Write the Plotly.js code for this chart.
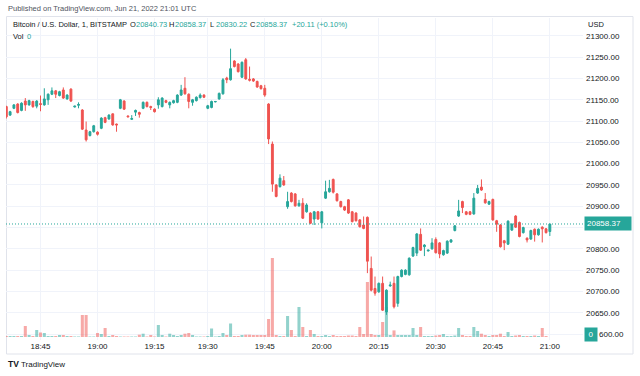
<!DOCTYPE html>
<html>
<head>
<meta charset="utf-8">
<script src="https://cdn.plot.ly/plotly-3.0.1.min.js"></script>
<style>
html,body{margin:0;padding:0;background:#fff;}
#chart{width:640px;height:376px;}
</style>
</head>
<body>
<div id="chart"></div>
<script>
// ---- DATA ----
const times = [
"18:36","18:37","18:38","18:39","18:40","18:41","18:42","18:43","18:44","18:45","18:46","18:47","18:48","18:49","18:50","18:51","18:52","18:53","18:54","18:55","18:56","18:57","18:58","18:59",
"19:00","19:01","19:02","19:03","19:04","19:05","19:06","19:07","19:08","19:09","19:10","19:11","19:12","19:13","19:14","19:15","19:16","19:17","19:18","19:19","19:20","19:21","19:22",
"19:24","19:25","19:26","19:27","19:28","19:29","19:30","19:31","19:32","19:33","19:34","19:35","19:36","19:37","19:38","19:39","19:40","19:41","19:42","19:43","19:44","19:45","19:46","19:47","19:48","19:49","19:50","19:51","19:52","19:53","19:54","19:55","19:56","19:57","19:58","19:59",
"20:00","20:01","20:02","20:03","20:04","20:05","20:06","20:07","20:08","20:09","20:10","20:11","20:12","20:13","20:14","20:15","20:16","20:17","20:18","20:19","20:20","20:21","20:22","20:23","20:24","20:25","20:26","20:27","20:28","20:29","20:30",
"20:31","20:32","20:33","20:34","20:35","20:36","20:37","20:38","20:39","20:40","20:41","20:42","20:43","20:44","20:45","20:46","20:47","20:48","20:49","20:50","20:51","20:52","20:53","20:54","20:55","20:56","20:57","20:58","20:59","21:00"
];
const opens = [21134,21114,21130,21140,21125,21147,21138,21146,21135,21141,21138,21150,21163,21171,21160,21173,21152,21175,21133,21137,
21126,21079,21066,21075,21074,21083,21108,21105,21117,21093,21130,21147,21112,21104,21121,21120,21130,21144,21134,21128,
21138,21134,21148,21138,21143,21144,21161,21177,21163,21144,21148,21155,21161,21130,21132,21145,21152,21164,21201,21197,
21241,21234,21203,21244,21198,21199,21193,21183,21177,21140,21046,20950,20946,20960,20899,20931,20929,20901,20907,20887,
20884,20870,20887,20861,20919,20934,20963,20929,20911,20899,20915,20887,20884,20868,20856,20874,20754,20707,20699,20719,
20652,20713,20719,20672,20735,20740,20739,20783,20790,20834,20805,20795,20800,20822,20814,20786,20790,20816,20843,20877,
20911,20887,20887,20882,20931,20945,20916,20905,20916,20866,20856,20819,20811,20844,20877,20862,20838,20825,20823,20846,
20833,20851,20847,20840.73];
const highs = [21136,21124,21140,21142,21144,21154,21150,21148,21149,21160,21177,21165,21179,21173,21171,21179,21163,21177,21136,21144,
21128,21099,21077,21091,21076,21109,21110,21116,21118,21094,21152,21149,21113,21114,21127,21122,21146,21146,21136,21130,
21156,21156,21150,21146,21150,21163,21185,21203,21165,21152,21158,21165,21163,21138,21148,21147,21167,21201,21204,21270,
21243,21236,21240,21248,21228,21201,21195,21185,21185,21142,21052,20952,20975,20971,20934,20933,20931,20915,20919,20907,
20886,20889,20889,20889,20960,20962,20965,20931,20913,20901,20917,20889,20886,20870,20876,20876,20782,20735,20721,20735,
20705,20723,20735,20737,20752,20752,20780,20805,20837,20848,20811,20798,20825,20827,20816,20798,20820,20823,20856,20915,
20913,20889,20889,20931,20950,20963,20931,20913,20918,20868,20858,20821,20867,20860,20879,20864,20852,20827,20845,20848,
20848,20853,20849,20858.37];
const lows = [21106,21112,21128,21118,21123,21124,21136,21131,21130,21123,21136,21138,21161,21154,21158,21152,21150,21145,21132,21130,
21079,21052,21064,21073,21066,21081,21095,21103,21089,21075,21128,21126,21109,21103,21112,21108,21128,21132,21126,21120,
21129,21132,21142,21130,21141,21142,21159,21162,21130,21136,21146,21153,21154,21128,21130,21144,21150,21162,21189,21195,
21226,21214,21201,21197,21193,21192,21178,21174,21157,21046,20934,20921,20944,20948,20894,20909,20899,20899,20870,20885,
20858,20856,20868,20848,20917,20932,20930,20911,20897,20889,20882,20862,20864,20850,20846,20743,20700,20690,20697,20654,
20645,20711,20660,20664,20733,20738,20737,20781,20783,20795,20783,20794,20798,20789,20778,20784,20788,20814,20841,20875,
20884,20879,20879,20880,20929,20936,20906,20903,20866,20840,20803,20797,20809,20842,20849,20827,20836,20815,20821,20817,
20831,20815,20836,20830.22];
const closes = [21110,21122,21138,21120,21142,21138,21148,21134,21147,21139,21152,21163,21171,21163,21169,21154,21161,21147,21135,21139,
21081,21056,21075,21089,21069,21107,21097,21114,21091,21091,21150,21128,21110,21106,21125,21116,21144,21134,21132,21122,
21150,21154,21144,21144,21148,21161,21173,21164,21146,21150,21156,21161,21156,21136,21146,21146,21165,21197,21197,21223,
21228,21216,21238,21199,21196,21194,21180,21176,21161,21058,20952,20923,20966,20950,20911,20911,20901,20907,20872,20903,
20860,20887,20870,20887,20934,20942,20933,20913,20899,20891,20884,20864,20866,20852,20848,20771,20703,20696,20719,20656,
20703,20715,20664,20735,20750,20750,20778,20803,20835,20797,20809,20797,20814,20791,20788,20796,20818,20821,20854,20889,
20897,20881,20881,20919,20942,20938,20908,20911,20868,20858,20805,20814,20865,20858,20851,20829,20850,20821,20843,20833,
20846,20847,20838,20858.37];
const volumes = [1,1,1,1,1,11,2,1,7,4.5,4,1,1,1,2,2,1,1,0.5,0.5,
22,22,0.5,0.5,4,3,9,1,2,1,0.5,0.5,0.5,0.5,0.5,2.3,3.3,0.5,2,0.5,
12,2,0.5,3.3,2,1,2,3.3,4,2,0.5,0.5,0.5,1,8.5,0.5,1,4,2,13.5,
1,1,2,2.3,2.3,2,2,2,2,18,79,2,1,1,21,7,1,30,10,1,
7,3,1,1,2,1,2,1,1,1,1.5,1.5,1,10,3,55,3,2,2,15,
30,2,6.6,2,2,2,2,9,2,10,1,1,1,1.5,2,3,1,1,1.5,9,
2,1,1,10,6,3.3,2,1,2,2,3.3,1,5,1,1.5,2,1,1,1,1.5,
1,9,1,0];
const timeTicks = ["18:45","19:00","19:15","19:30","19:45","20:00","20:15","20:30","20:45","21:00"];
const priceTicks = [20600,20650,20700,20750,20800,20850,20900,20950,21000,21050,21100,21150,21200,21250,21300];
const hiddenPriceTicks = [20850];           // hidden behind the last-price label
const partlyCoveredTick = 20600;            // "20" covered by the volume label box
const lastPrice = 20858.37;
const lastVolume = 0;

// ---- STYLE ----
const UP = '#26a69a', DOWN = '#ef5350';
const UPV = 'rgba(38,166,154,0.5)', DOWNV = 'rgba(239,83,80,0.5)';
const FONT = 'Liberation Sans, Arial, sans-serif';
const TXT = '#131722';
const GRID = '#f0f3fa';

const volColors = closes.map((c, i) => c >= opens[i] ? UPV : DOWNV);

const traces = [
  {type:'bar', x:times, y:volumes, yaxis:'y2', marker:{color:volColors, line:{width:0}}, hoverinfo:'none', showlegend:false},
  {type:'candlestick', x:times, open:opens, high:highs, low:lows, close:closes,
   increasing:{line:{color:UP,width:1}, fillcolor:UP},
   decreasing:{line:{color:DOWN,width:1}, fillcolor:DOWN},
   whiskerwidth:0, hoverinfo:'none', showlegend:false}
];

// pixel -> paper helpers (plot area x 6..583, y 18..340)
const L = 6, R = 583, T = 18, B = 340;
const X = px => (px - L) / (R - L);
const Y = py => (B - py) / (B - T);

function lab(text, px, py, color, size, anchor) {
  return {text:text, xref:'paper', yref:'paper', x:X(px), y:Y(py), xanchor:anchor||'left', yanchor:'middle',
          showarrow:false, font:{family:FONT, size:size||8, color:color||TXT}};
}

const annotations = [
  lab('Published on TradingView.com, Jun 21, 2022 21:01 UTC', 6, 8, '#50535e', 7.5),
  lab('Bitcoin / U.S. Dollar, 1, BITSTAMP', 11, 25, TXT, 7.5),
  lab('O', 127.5, 25, TXT, 7.5), lab(opens[opens.length-1].toFixed(2), 134, 25, UP, 7.5),
  lab('H', 166.5, 25, TXT, 7.5), lab(highs[highs.length-1].toFixed(2), 173, 25, UP, 7.5),
  lab('L', 208, 25, TXT, 7.5), lab(lows[lows.length-1].toFixed(2), 213.5, 25, UP, 7.5),
  lab('C', 247.5, 25, TXT, 7.5), lab(closes[closes.length-1].toFixed(2), 254, 25, UP, 7.5),
  lab('+20.11 (+0.10%)', 290, 25, UP, 7.5),
  lab('Vol', 11, 37, TXT, 7.5), lab(String(lastVolume), 25, 37, UP, 7.5),
  lab('USD', 585.5, 25, TXT, 7.5),
  lab('<b>TV</b>', 5.5, 364, TXT, 8.5),
  lab('TradingView', 19, 364, TXT, 8),
  {text:lastPrice.toFixed(2), xref:'paper', yref:'y', x:1, xshift:1, y:lastPrice, xanchor:'left', yanchor:'middle',
   showarrow:false, bgcolor:UP, borderpad:2, width:42, align:'left', font:{family:FONT, size:8, color:'#ffffff'}},
  {text:String(lastVolume), xref:'paper', yref:'y', x:1, xshift:1, y:partlyCoveredTick, xanchor:'left', yanchor:'middle',
   showarrow:false, bgcolor:UP, borderpad:2, width:8, align:'center', font:{family:FONT, size:8, color:'#ffffff'}},
  // visible remainder of the 20600.00 tick label next to the volume box
  {text:partlyCoveredTick.toFixed(2).slice(2), xref:'paper', yref:'y', x:1, xshift:14, y:partlyCoveredTick,
   xanchor:'left', yanchor:'middle', showarrow:false, font:{family:FONT, size:8, color:TXT}}
];

const shapes = [
  {type:'line', xref:'paper', x0:0, x1:1, yref:'y', y0:lastPrice, y1:lastPrice,
   line:{color:UP, width:1, dash:'1px,2px'}},
  {type:'rect', xref:'paper', yref:'paper', x0:X(6.5), x1:X(633), y0:Y(354), y1:Y(16.5),
   line:{color:'#e0e3eb', width:1}, fillcolor:'rgba(0,0,0,0)', layer:'below'}
];

const layout = {
  width:640, height:376,
  margin:{l:L, r:640-R, t:T, b:376-B, pad:0},
  paper_bgcolor:'#ffffff', plot_bgcolor:'#ffffff',
  showlegend:false,
  bargap:0.2,
  font:{family:FONT, size:8, color:TXT},
  xaxis:{type:'category', categoryorder:'array', categoryarray:times,
         range:[-0.08, 151.72], rangeslider:{visible:false},
         tickmode:'array', tickvals:timeTicks, ticktext:timeTicks,
         showgrid:true, gridcolor:GRID, gridwidth:1, zeroline:false, showline:false,
         ticks:'', tickfont:{family:FONT, size:8, color:TXT}, fixedrange:true},
  yaxis:{side:'right', range:[20586, 21342], tickmode:'array', tickvals:priceTicks,
         ticktext:priceTicks.map(v => (hiddenPriceTicks.includes(v) || v === partlyCoveredTick) ? '' : v.toFixed(2)),
         showgrid:true, gridcolor:GRID, gridwidth:1, zeroline:false, showline:false,
         ticks:'', ticklabelstandoff:2, tickfont:{family:FONT, size:8, color:TXT}, fixedrange:true},
  yaxis2:{overlaying:'y', range:[-3, 319], visible:false, showgrid:false, zeroline:false, fixedrange:true},
  annotations:annotations,
  shapes:shapes
};

Plotly.newPlot('chart', traces, layout, {staticPlot:true, displayModeBar:false});
</script>
</body>
</html>
